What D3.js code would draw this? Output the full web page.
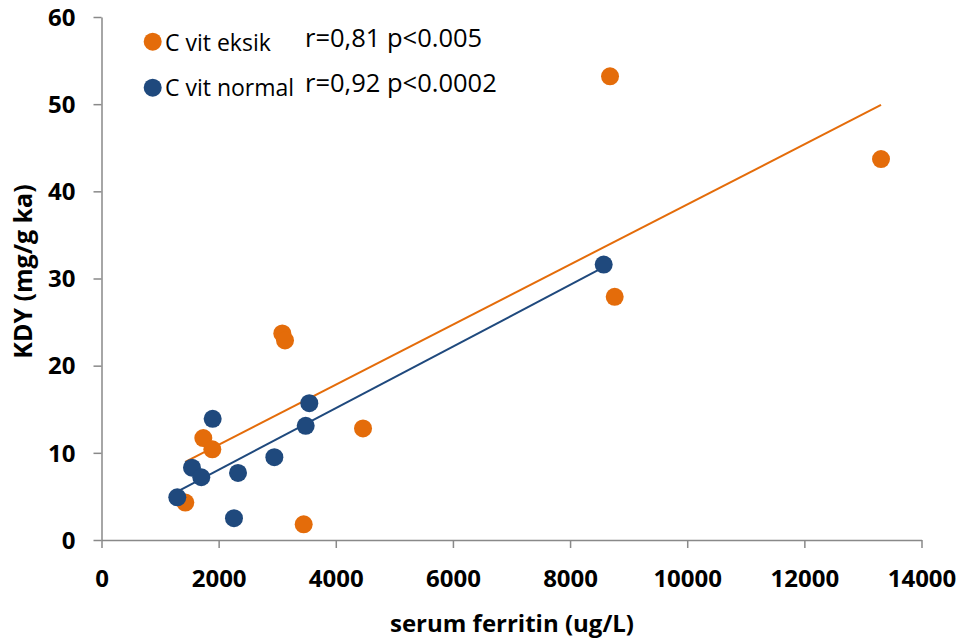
<!DOCTYPE html>
<html>
<head>
<meta charset="utf-8">
<script src="https://cdn.jsdelivr.net/npm/d3@7"></script>
<style>
    body { margin: 0; background: #fff; }
    svg { display: block; font-family: "Open Sans", sans-serif; }
    .axis path, .axis line { stroke: #898989; stroke-width: 1.5; }
    .axis text { font-size: 24px; font-weight: 700; fill: #000; font-family: "Open Sans", sans-serif; }
</style>
</head>
<body>
<svg id="chart" width="962" height="640"></svg>
<script>
// C vit eksik (orange)
const eksikFerritin = [8682, 13309, 8762, 3087, 3133, 4465, 1738, 1892, 1431, 3452];
const eksikKdy      = [53.2, 43.7, 27.9, 23.7, 22.9, 12.8, 11.7, 10.4, 4.3, 1.8];

// C vit normal (blue)
const normalFerritin = [1898, 1545, 1704, 1294, 2331, 2951, 2262, 3486, 3548, 8574];
const normalKdy      = [13.9, 8.3, 7.2, 4.9, 7.7, 9.5, 2.5, 13.1, 15.7, 31.6];

const seriesNames = ['C vit eksik', 'C vit normal'];
const seriesStats = ['r=0,81 p<0.005', 'r=0,92 p<0.0002'];
const seriesColors = ['#E46C0A', '#1F497D'];

const xTicks = [0, 2000, 4000, 6000, 8000, 10000, 12000, 14000];
const yTicks = [0, 10, 20, 30, 40, 50, 60];

const xTitle = 'serum ferritin (ug/L)';
const yTitle = 'KDY (mg/g ka)';

let svg = d3.select('#chart'),
    margin = {top: 17, right: 40.5, bottom: 100, left: 101.5},
    width = 962 - margin.left - margin.right,
    height = 640 - margin.top - margin.bottom,
    g = svg.append('g').attr('transform', 'translate(' + margin.left + ',' + margin.top + ')');

let x = d3.scaleLinear().domain([0, 14000]).range([0, width]);
let y = d3.scaleLinear().domain([0, 60]).range([height, 0]);

g.append('g')
    .attr('class', 'axis')
    .call(d3.axisLeft(y).tickValues(yTicks).tickSize(8).tickSizeOuter(0).tickPadding(18))
    .selectAll('text').attr('dy', '0.34em');

g.append('g')
    .attr('class', 'axis')
    .attr('transform', 'translate(0,' + height + ')')
    .call(d3.axisBottom(x).tickValues(xTicks).tickFormat(d3.format('d'))
        .tickSize(8).tickSizeOuter(0).tickPadding(22));

const series = [
    eksikFerritin.map((v, i) => ({x: v, y: eksikKdy[i]})),
    normalFerritin.map((v, i) => ({x: v, y: normalKdy[i]})),
];

// least squares trendline over the x range of each series
function trend(data) {
    const mx = d3.mean(data, d => d.x), my = d3.mean(data, d => d.y);
    const sxy = d3.sum(data, d => (d.x - mx) * (d.y - my));
    const sxx = d3.sum(data, d => (d.x - mx) * (d.x - mx));
    const b = sxy / sxx, a = my - b * mx;
    const ext = d3.extent(data, d => d.x);
    return ext.map(v => ({x: v, y: a + b * v}));
}

let line = d3.line().x(d => x(d.x)).y(d => y(d.y));

g.selectAll('path.trend')
    .data(series)
    .enter()
    .append('path')
    .classed('trend', true)
    .attr('fill', 'none')
    .attr('stroke', (d, i) => seriesColors[i])
    .attr('stroke-width', 2)
    .attr('d', d => line(trend(d)));

series.forEach((data, i) => {
    g.append('g')
        .selectAll('circle')
        .data(data)
        .enter()
        .append('circle')
        .attr('cx', d => x(d.x))
        .attr('cy', d => y(d.y))
        .attr('r', 9)
        .attr('fill', seriesColors[i]);
});

// legend + stats
const legend = svg.append('g');
seriesNames.forEach((name, i) => {
    legend.append('circle')
        .attr('cx', 152.7)
        .attr('cy', 41.7 + i * 46)
        .attr('r', 9)
        .attr('fill', seriesColors[i]);
    legend.append('text')
        .attr('x', 165)
        .attr('y', 50.7 + i * 45.5)
        .attr('font-size', '23px')
        .text(name);
    legend.append('text')
        .attr('x', 305)
        .attr('y', 46.7 + i * 45)
        .attr('font-size', '25.5px')
        .text(seriesStats[i]);
});

svg.append('text')
    .attr('x', 512)
    .attr('y', 632)
    .attr('text-anchor', 'middle')
    .attr('font-size', '24px')
    .attr('font-weight', '700')
    .text(xTitle);

svg.append('text')
    .attr('transform', 'translate(31.5,271.5) rotate(-90)')
    .attr('text-anchor', 'middle')
    .attr('font-size', '25px')
    .attr('font-weight', '700')
    .text(yTitle);
</script>
</body>
</html>
